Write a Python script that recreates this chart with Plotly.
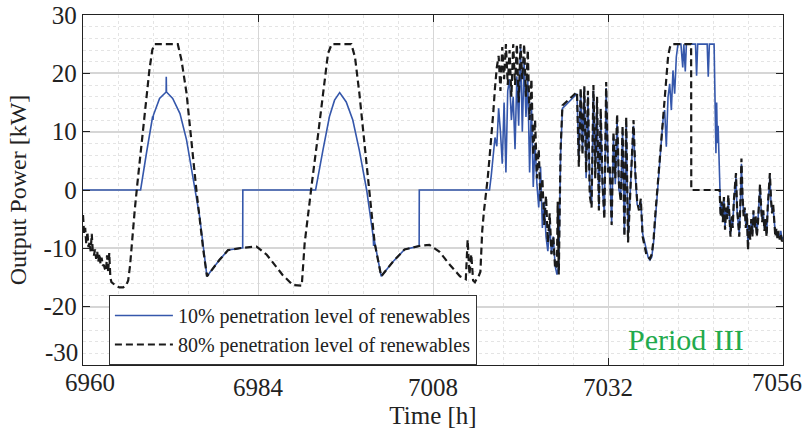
import plotly.graph_objects as go

# Output power of the unit over hours 6960-7056 (Period III), two renewable penetration levels.
# Each entry: (time [h], output power [kW])
pen10 = [
    (6960.0, 0.0), (6967.9, 0.0), (6968.7, 6.3), (6969.55, 12.6), (6969.6, 12.0), (6969.65, 12.8),
    (6970.5, 15.7), (6971.4, 16.8), (6971.42, 19.4), (6971.45, 16.8), (6972.3, 15.7),
    (6973.3, 13.1), (6974.2, 8.6), (6975.1, 2.3), (6976.0, -4.6), (6977.0, -14.8),
    (6978.7, -12.0), (6979.9, -10.3), (6981.9, -9.9), (6981.92, 0.0),
    (6991.9, 0.0), (6992.9, 6.8), (6993.8, 12.6), (6994.5, 15.4), (6995.2, 16.7),
    (6996.1, 15.1), (6997.0, 12.0), (6997.9, 6.8), (6998.9, 0.0), (6999.8, -8.0),
    (6999.85, -9.6), (6999.9, -8.3), (7000.9, -14.8), (7002.5, -12.3), (7004.1, -10.2),
    (7006.1, -9.6), (7006.12, 0.0),
    (7015.75, 0.0), (7016.0, 2.6), (7016.25, 6.0), (7016.5, 9.0), (7016.75, 7.5), (7017.0, 14.0),
    (7017.25, 10.0), (7017.5, 4.5), (7017.75, 15.0), (7018.0, 3.0), (7018.25, 17.0), (7018.5, 19.0),
    (7018.75, 12.0), (7019.0, 16.0), (7019.25, 7.0), (7019.5, 19.5), (7019.75, 11.0), (7020.0, 24.5),
    (7020.25, 10.0), (7020.5, 22.0), (7020.75, 12.5), (7021.0, 19.0), (7021.25, 3.0), (7021.5, 15.0),
    (7021.75, 0.5), (7022.0, 8.0), (7022.25, 1.0), (7022.5, -3.0), (7022.75, 4.0), (7023.0, -6.5),
    (7023.25, -2.0), (7023.5, -8.0), (7023.75, -10.5), (7024.0, -6.0), (7024.25, -11.0), (7024.5, -8.0),
    (7024.75, -13.0), (7025.0, -14.5), (7025.25, -13.0), (7025.5, 6.0), (7025.75, 14.0), (7027.75, 16.5),
    (7028.0, 5.0), (7028.25, 17.0), (7028.5, 7.0), (7028.75, 17.5), (7029.0, 2.0), (7029.25, 16.0),
    (7029.5, 0.0), (7029.75, -2.5), (7030.0, 17.0), (7030.25, 3.0), (7030.5, 15.0), (7030.75, -3.0),
    (7031.0, 13.0), (7031.25, 0.0), (7031.5, -4.0), (7031.75, 17.5), (7032.0, 4.0), (7032.25, 3.0),
    (7032.5, -5.5), (7032.75, 9.0), (7033.0, 1.0), (7033.25, 12.0), (7033.5, 0.0), (7033.75, -1.0),
    (7034.0, 10.0), (7034.25, -7.5), (7034.5, 11.5), (7034.75, -8.5), (7035.0, -1.5), (7035.25, 4.5),
    (7035.5, 11.0), (7035.75, 2.5), (7036.0, -2.5), (7036.25, -3.0), (7036.5, -2.0), (7036.75, -7.5),
    (7037.0, -9.0), (7037.25, -10.5), (7037.5, -11.5), (7037.75, -12.0), (7038.0, -11.5), (7038.25, -9.0),
    (7038.5, -5.0), (7038.75, -1.0), (7039.0, 3.0), (7039.1, 5.1), (7039.3, 6.8), (7039.54, 12.0),
    (7039.77, 13.7), (7040.0, 7.4), (7040.23, 15.9), (7040.46, 18.2), (7040.69, 13.7), (7040.91, 20.5),
    (7041.14, 16.5), (7041.37, 22.8), (7041.6, 25.0), (7042.0, 25.0), (7042.25, 21.0), (7042.4, 25.0),
    (7042.6, 20.3), (7042.75, 25.0), (7044.0, 25.0), (7044.15, 19.6), (7044.3, 25.0), (7045.6, 25.0),
    (7045.75, 19.4), (7045.9, 25.0), (7046.55, 25.0), (7046.7, 16.6), (7046.8, 6.3), (7046.9, 15.0),
    (7047.0, 8.0), (7047.1, 11.0), (7047.3, 0.0), (7047.45, -4.0), (7047.6, -2.5), (7047.75, -5.0),
    (7047.9, -1.8), (7048.05, -6.3), (7048.2, -3.5), (7048.35, -4.5), (7048.5, -1.5), (7048.65, -5.5),
    (7048.8, -7.5), (7048.95, -5.0), (7049.1, -6.0), (7049.25, -2.5), (7049.4, 0.8), (7049.55, 2.2),
    (7049.7, -3.5), (7049.85, -5.5), (7050.0, -7.5), (7050.15, -3.0), (7050.3, 4.5), (7050.45, -1.5),
    (7050.6, -4.0), (7050.75, -3.5), (7050.9, -6.0), (7051.05, -4.5), (7051.2, -9.5), (7051.35, -6.5),
    (7051.5, -8.0), (7051.65, -5.5), (7051.8, -7.5), (7051.95, -4.0), (7052.1, -6.0), (7052.25, -5.0),
    (7052.4, -7.5), (7052.55, -5.5), (7052.7, -2.5), (7052.85, 0.5), (7053.0, -3.5), (7053.15, -5.0),
    (7053.3, -4.0), (7053.45, -6.5), (7053.6, -5.5), (7053.75, -7.5), (7053.9, -3.5), (7054.05, -1.0),
    (7054.2, 2.3), (7054.35, -2.0), (7054.5, -3.5), (7054.65, -3.0), (7054.8, -6.0), (7054.95, -7.5),
    (7055.1, -7.0), (7055.25, -8.0), (7055.4, -7.5), (7055.55, -8.0), (7055.7, -7.0), (7055.85, -8.5),
    (7056.0, -8.0),
]

pen80 = [
    (6960.0, -4.3), (6960.15, -7.5), (6960.3, -6.5), (6960.45, -9.3), (6960.6, -7.2), (6960.75, -9.8),
    (6960.9, -9.0), (6961.05, -10.5), (6961.2, -7.5), (6961.35, -10.7), (6961.5, -11.2), (6961.65, -10.2),
    (6961.8, -11.8), (6961.95, -10.6), (6962.1, -12.3), (6962.25, -10.9), (6962.4, -12.7), (6962.55, -11.6),
    (6962.7, -13.0), (6962.85, -12.8), (6963.0, -13.5), (6963.15, -13.9), (6963.3, -11.2), (6963.45, -14.2),
    (6963.6, -10.8), (6963.75, -15.0), (6963.9, -15.8), (6964.2, -16.1), (6964.6, -16.5), (6965.0, -16.7),
    (6965.5, -16.7), (6965.9, -16.4), (6966.2, -15.5), (6966.45, -13.0), (6966.75, -8.0), (6967.1, -3.4),
    (6967.45, 1.0), (6967.8, 5.1), (6968.5, 13.7), (6969.1, 20.5), (6969.5, 24.0), (6969.8, 25.0),
    (6973.0, 25.0), (6973.5, 22.3), (6974.2, 16.6), (6974.9, 8.0), (6975.6, -0.6), (6976.5, -10.3),
    (6977.0, -14.8), (6978.7, -12.0), (6979.9, -10.3), (6981.9, -9.9), (6983.8, -9.7), (6985.2, -11.1),
    (6986.7, -13.4), (6987.4, -14.6), (6988.8, -16.3), (6990.0, -16.4), (6990.4, -9.1), (6990.9, -3.4),
    (6991.5, 2.3), (6992.2, 9.1), (6992.9, 16.6), (6993.6, 23.4), (6994.1, 25.0), (6996.8, 25.0),
    (6997.3, 22.8), (6997.9, 16.6), (6998.6, 8.0), (6999.3, -0.6), (7000.0, -9.1), (7000.9, -14.8),
    (7002.5, -12.3), (7004.1, -10.2), (7006.1, -9.6), (7007.5, -9.4), (7008.9, -10.6), (7010.3, -12.8),
    (7011.7, -14.8), (7012.5, -15.3), (7012.75, -8.5), (7013.0, -14.5), (7013.25, -11.0), (7013.5, -15.5),
    (7013.75, -15.8), (7014.0, -15.2), (7014.25, -14.8), (7014.5, -14.0), (7014.75, -7.0), (7015.0, -3.5),
    (7015.25, -1.0), (7015.5, 2.0), (7015.75, 5.5), (7016.0, 9.0), (7016.25, 13.0), (7016.5, 17.5),
    (7016.75, 21.0), (7017.0, 23.0), (7017.25, 17.0), (7017.5, 24.5), (7017.75, 19.0), (7018.0, 25.0),
    (7018.25, 18.0), (7018.5, 24.0), (7018.75, 16.0), (7019.0, 25.0), (7019.25, 18.0), (7019.5, 25.0),
    (7019.75, 15.0), (7020.0, 25.0), (7020.25, 19.0), (7020.5, 25.0), (7020.75, 16.0), (7021.0, 24.0),
    (7021.25, 12.0), (7021.5, 19.0), (7021.75, 6.0), (7022.0, 12.0), (7022.25, 2.0), (7022.5, 7.0),
    (7022.75, -2.0), (7023.0, 2.0), (7023.25, -6.0), (7023.5, -1.0), (7023.75, -9.0), (7024.0, -4.0),
    (7024.25, -11.0), (7024.5, -8.0), (7024.75, -13.5), (7025.0, -13.0), (7025.1, -2.0), (7025.25, -14.5),
    (7025.5, 7.0), (7025.75, 14.5), (7027.75, 16.8), (7028.0, 4.0), (7028.25, 17.5), (7028.5, 6.0),
    (7028.75, 17.8), (7029.0, 3.0), (7029.25, 17.0), (7029.5, -1.0), (7029.75, -3.0), (7030.0, 18.0),
    (7030.25, 2.0), (7030.5, 16.0), (7030.75, -3.5), (7031.0, 14.0), (7031.25, 1.0), (7031.5, -5.0),
    (7031.75, 18.5), (7032.0, 3.0), (7032.25, 4.0), (7032.5, -6.0), (7032.75, 10.0), (7033.0, 2.0),
    (7033.25, 13.0), (7033.5, 1.0), (7033.75, -2.0), (7034.0, 11.0), (7034.25, -8.0), (7034.5, 12.5),
    (7034.75, -9.0), (7035.0, -2.0), (7035.25, 5.0), (7035.5, 12.0), (7035.75, 3.0), (7036.0, -2.0),
    (7036.25, -3.5), (7036.5, -1.5), (7036.75, -8.0), (7037.0, -9.5), (7037.25, -11.0), (7037.5, -11.5),
    (7037.75, -11.8), (7038.0, -11.0), (7038.25, -8.5), (7038.5, -4.0), (7038.75, 0.0), (7039.0, 4.0),
    (7039.25, 7.5), (7039.5, 12.0), (7039.75, 16.5), (7040.0, 20.0), (7040.25, 23.0), (7040.5, 24.5),
    (7040.75, 25.0), (7043.4, 25.0), (7043.42, 0.0), (7047.3, 0.0), (7047.45, -4.6), (7047.6, -2.0),
    (7047.75, -5.5), (7047.9, -1.2), (7048.05, -6.8), (7048.2, -3.0), (7048.35, -5.0), (7048.5, -0.8),
    (7048.65, -6.0), (7048.8, -8.0), (7048.95, -4.5), (7049.1, -6.5), (7049.25, -2.0), (7049.4, 1.5),
    (7049.55, 2.9), (7049.7, -3.0), (7049.85, -6.0), (7050.0, -8.0), (7050.15, -2.5), (7050.3, 5.4),
    (7050.45, -1.0), (7050.6, -4.5), (7050.75, -3.0), (7050.9, -6.5), (7051.05, -4.0), (7051.2, -10.3),
    (7051.35, -6.0), (7051.5, -8.5), (7051.65, -5.0), (7051.8, -8.0), (7051.95, -3.5), (7052.1, -6.5),
    (7052.25, -4.5), (7052.4, -8.0), (7052.55, -6.0), (7052.7, -2.0), (7052.85, 1.0), (7053.0, -3.0),
    (7053.15, -5.5), (7053.3, -3.5), (7053.45, -7.0), (7053.6, -5.0), (7053.75, -8.0), (7053.9, -3.0),
    (7054.05, -0.5), (7054.2, 2.9), (7054.35, -1.5), (7054.5, -4.0), (7054.65, -2.5), (7054.8, -6.5),
    (7054.95, -8.0), (7055.1, -6.5), (7055.25, -8.5), (7055.4, -7.0), (7055.55, -8.5), (7055.7, -7.5),
    (7055.85, -8.8), (7056.0, -8.5),
]

series_names = ["10% penetration level of renewables", "80% penetration level of renewables"]
x_ticks = [6960, 6984, 7008, 7032, 7056]
y_ticks = [-30, -20, -10, 0, 10, 20, 30]

FONT = "Liberation Serif, Times New Roman, serif"
TEXT = "#222222"

t10, p10 = zip(*pen10)
t80, p80 = zip(*pen80)

fig = go.Figure()
fig.add_trace(go.Scatter(x=t10, y=p10, mode="lines", name=series_names[0],
                         line=dict(color="#3557ab", width=1.6)))
fig.add_trace(go.Scatter(x=t80, y=p80, mode="lines", name=series_names[1],
                         line=dict(color="#1a1a1a", width=2.2, dash="7px,4px")))

axis_common = dict(
    showline=True, linecolor=TEXT, linewidth=1.3, mirror="ticks",
    ticks="inside", ticklen=7, tickwidth=1, tickcolor=TEXT,
    zeroline=False, automargin=False,
    tickfont=dict(family=FONT, size=25, color=TEXT),
)

# Labels at the corners of the frame are nudged away from each other (and kept inside the
# page); all the other labels are ordinary tick labels.
x_ticktext = ["" if v in (x_ticks[0], x_ticks[-1]) else str(v) for v in x_ticks]
y_ticktext = ["" if v == y_ticks[0] else str(v) for v in y_ticks]

fig.update_xaxes(
    range=[6960, 7056], tickvals=x_ticks, ticktext=x_ticktext,
    showgrid=True, gridcolor="#d6d6d6", gridwidth=1,
    minor=dict(dtick=4.8, tick0=6960, showgrid=True, gridcolor="#e4e4e4", griddash="dot", gridwidth=1),
    title=dict(text="Time [h]", font=dict(family=FONT, size=25, color=TEXT), standoff=6),
    **axis_common,
)
fig.update_yaxes(
    range=[-30, 30], tickvals=y_ticks, ticktext=y_ticktext,
    showgrid=True, gridcolor="#d6d6d6", gridwidth=2,
    minor=dict(dtick=2, tick0=0, showgrid=True, gridcolor="#e4e4e4", griddash="dot", gridwidth=1),
    title=dict(text="Output Power [kW]", font=dict(family=FONT, size=24, color=TEXT), standoff=10),
    **axis_common,
)

for tick, shift in ((x_ticks[0], 7), (x_ticks[-1], -6)):
    fig.add_annotation(
        text=str(tick), x=tick, xref="x", y=0, yref="paper",
        xanchor="center", yanchor="middle", xshift=shift, yshift=-17,
        showarrow=False, font=dict(family=FONT, size=25, color=TEXT),
    )

fig.add_annotation(
    text=str(y_ticks[0]), x=0, xref="paper", y=y_ticks[0], yref="y",
    xanchor="right", yanchor="middle", xshift=-3, yshift=13,
    showarrow=False, font=dict(family=FONT, size=25, color=TEXT),
)

fig.add_annotation(
    text="Period III", x=0.861, y=0.074, xref="paper", yref="paper",
    xanchor="center", yanchor="middle", showarrow=False,
    font=dict(family=FONT, size=30, color="#22aa4c"),
)

fig.update_layout(
    width=806, height=429,
    margin=dict(l=83, r=23, t=15, b=64),
    paper_bgcolor="white", plot_bgcolor="white",
    showlegend=True,
    legend=dict(
        x=0.037, y=0.2, xanchor="left", yanchor="top",
        bgcolor="white", bordercolor="#333333", borderwidth=1,
        font=dict(family=FONT, size=20, color=TEXT),
        itemwidth=58, tracegroupgap=0,
    ),
)

fig.write_html("out.html")
